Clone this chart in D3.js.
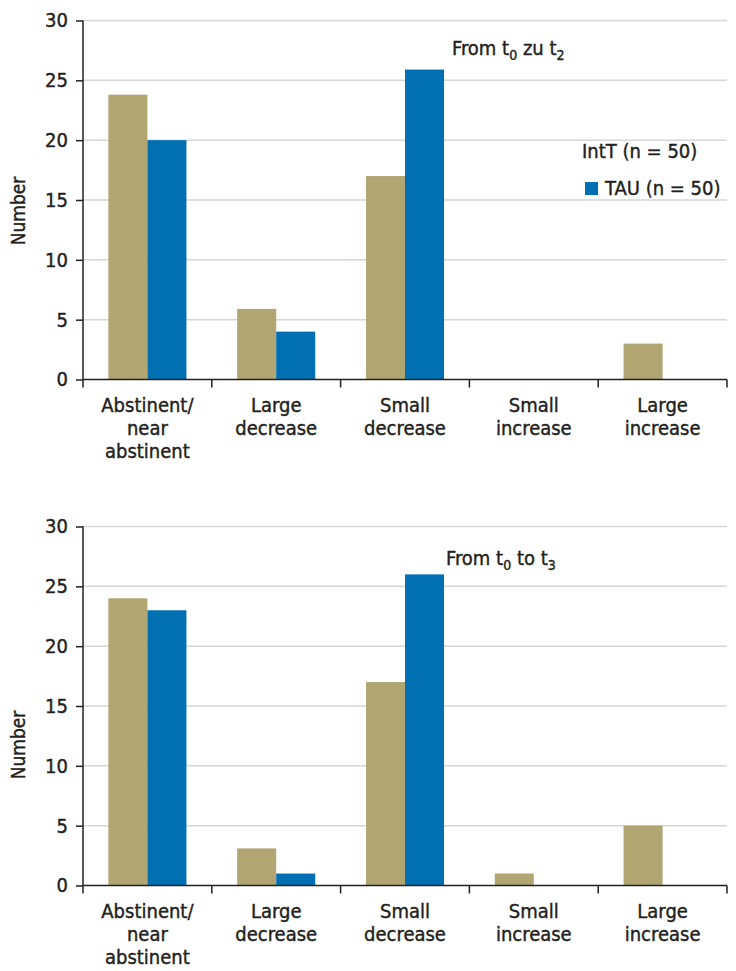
<!DOCTYPE html>
<html>
<head>
<meta charset="utf-8">
<script src="https://cdn.jsdelivr.net/npm/d3@7"></script>
<style>
  html, body { margin: 0; padding: 0; background: #fff; }
  svg { display: block; }
  text { font-family: "DejaVu Sans Condensed", "DejaVu Sans", sans-serif; fill: #231f20; stroke: #231f20; stroke-width: 0.4px; }
</style>
</head>
<body>
<script>
// ---------- data ----------
const categories = [
  ["Abstinent/", "near", "abstinent"],
  ["Large", "decrease"],
  ["Small", "decrease"],
  ["Small", "increase"],
  ["Large", "increase"]
];
const seriesNames = ["IntT (n = 50)", "TAU (n = 50)"];
// panel 1: from t0 to t2
const intT_t2 = [23.8, 5.9, 17, 0, 3];
const tau_t2  = [20, 4, 25.9, 0, 0];
// panel 2: from t0 to t3
const intT_t3 = [24, 3.1, 17, 1, 5];
const tau_t3  = [23, 1, 26, 0, 0];
const yTicks = [0, 5, 10, 15, 20, 25, 30];
const yLabel = "Number";
const panelTitles = [
  [["From t", false], ["0", true], [" zu t", false], ["2", true]],
  [["From t", false], ["0", true], [" to t", false], ["3", true]]
];

// ---------- styling ----------
const W = 736, H = 971;
const colors = ["#b1a672", "#0070b2"];
const catKeys = categories.map(c => c.join(" "));
const FS = 20;

const svg = d3.select("body").append("svg").attr("width", W).attr("height", H);

const panels = [
  {top: 20.5, intT: intT_t2, tau: tau_t2, title: panelTitles[0], titleX: 452, titleY: 55, labelY: 211, legend: true},
  {top: 526.5, intT: intT_t3, tau: tau_t3, title: panelTitles[1], titleX: 446, titleY: 565, labelY: 745, legend: false}
];

const left = 83, right = 727, plotH = 359;

panels.forEach(p => {
  const g = svg.append("g");
  const y = d3.scaleLinear().domain([0, 30]).range([p.top + plotH, p.top]);
  const x = d3.scaleBand().domain(catKeys).range([left, right]).paddingInner(0.394).paddingOuter(0.197);
  const x1 = d3.scaleBand().domain([0, 1]).range([0, x.bandwidth()]);

  // gridlines
  g.append("g").selectAll("line").data(yTicks.filter(t => t > 0)).join("line")
    .attr("x1", left).attr("x2", right)
    .attr("y1", d => y(d)).attr("y2", d => y(d))
    .attr("stroke", "#d6d6d6").attr("stroke-width", 1.5);

  // bars
  const rows = catKeys.map((k, i) => ({k, v: [p.intT[i], p.tau[i]]}));
  const grp = g.append("g").selectAll("g").data(rows).join("g")
    .attr("transform", d => `translate(${x(d.k)},0)`);
  grp.selectAll("rect").data(d => d.v.map((v, j) => ({v, j}))).join("rect")
    .attr("x", d => x1(d.j))
    .attr("width", x1.bandwidth())
    .attr("y", d => y(d.v))
    .attr("height", d => y(0) - y(d.v))
    .attr("fill", d => colors[d.j]);

  // y axis
  const ya = d3.axisLeft(y).tickValues(yTicks).tickSize(7).tickPadding(8).tickSizeOuter(0);
  const yg = g.append("g").attr("transform", `translate(${left},0)`).call(ya);
  yg.select(".domain").remove();
  yg.selectAll(".tick line").attr("stroke", "#231f20").attr("stroke-width", 1.5);
  yg.selectAll(".tick text").attr("font-size", FS).attr("fill", "#231f20").attr("font-family", null);
  g.append("line").attr("x1", left).attr("x2", left).attr("y1", y(30)).attr("y2", y(0) + 8)
    .attr("stroke", "#231f20").attr("stroke-width", 1.5);

  // x axis line and boundary ticks
  g.append("line").attr("x1", left).attr("x2", right).attr("y1", y(0)).attr("y2", y(0))
    .attr("stroke", "#231f20").attr("stroke-width", 1.5);
  const step = x.step();
  const bounds = d3.range(catKeys.length + 1).map(i => left + i * step);
  g.append("g").selectAll("line").data(bounds.slice(1)).join("line")
    .attr("x1", d => d).attr("x2", d => d).attr("y1", y(0)).attr("y2", y(0) + 8)
    .attr("stroke", "#231f20").attr("stroke-width", 1.5);

  // category labels
  const lab = g.append("g").selectAll("text").data(categories).join("text")
    .attr("x", (d, i) => x(catKeys[i]) + x.bandwidth() / 2)
    .attr("y", y(0) + 32)
    .attr("text-anchor", "middle").attr("font-size", FS);
  lab.selectAll("tspan").data(d => d).join("tspan")
    .attr("x", function() { return this.parentNode.getAttribute("x"); })
    .attr("dy", (d, i) => i === 0 ? 0 : 23)
    .text(d => d);

  // y label
  g.append("text")
    .attr("transform", `translate(25,${p.labelY}) rotate(-90)`)
    .attr("text-anchor", "middle").attr("font-size", FS - 1)
    .text(yLabel);

  // panel title
  const t = g.append("text").attr("x", p.titleX).attr("y", p.titleY).attr("font-size", FS);
  p.title.forEach(([s, sub], i) => {
    const prevSub = i > 0 && p.title[i - 1][1];
    t.append("tspan").attr("font-size", sub ? 14 : FS)
      .attr("dy", sub ? 5 : (prevSub ? -5 : 0)).text(s);
  });

  // legend (top panel only)
  if (p.legend) {
    const lg = g.append("g");
    lg.append("text").attr("x", 582).attr("y", 158).attr("font-size", FS).text(seriesNames[0]);
    lg.append("rect").attr("x", 585).attr("y", 182).attr("width", 13).attr("height", 13).attr("fill", colors[1]);
    lg.append("text").attr("x", 605).attr("y", 195).attr("font-size", FS).text(seriesNames[1]);
  }
});
</script>
</body>
</html>
